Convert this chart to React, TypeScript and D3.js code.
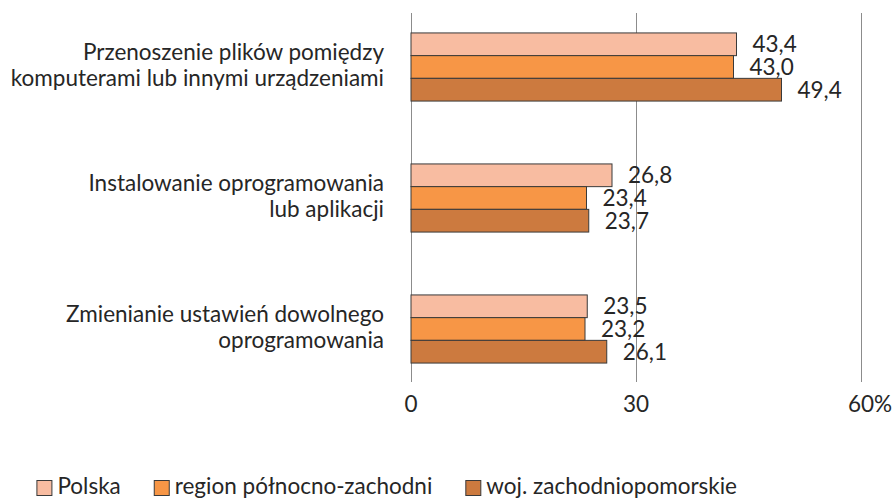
import React, { useEffect, useRef } from "react";
import * as d3 from "d3";

const categories = [
  ["Przenoszenie plików pomiędzy", "komputerami lub innymi urządzeniami"],
  ["Instalowanie oprogramowania", "lub aplikacji"],
  ["Zmienianie ustawień dowolnego", "oprogramowania"],
];
const seriesNames = ["Polska", "region północno-zachodni", "woj. zachodniopomorskie"];
const polska = [43.4, 26.8, 23.5];
const region = [43.0, 23.4, 23.2];
const woj = [49.4, 23.7, 26.1];
const ticks = [0, 30, 60];
const tickLabels = ["0", "30", "60"];
const colors = ["#F8BCA1", "#F79646", "#CC7A3F"];

const W = 893;
const H = 499;
const FONT = "Lato, 'Open Sans', sans-serif";
const FS = 22.5;
const TEXT = "#262626";

export default function App() {
  const ref = useRef<SVGSVGElement | null>(null);
  useEffect(() => {
    document.body.style.margin = "0";
    const svg = d3.select(ref.current);
    svg.selectAll("*").remove();
    const series = [polska, region, woj];
    const x = d3.scaleLinear().domain([0, 60]).range([411, 861]);
    const y = d3
      .scaleBand<number>()
      .domain(d3.range(categories.length))
      .range([1.5, 394.5])
      .paddingInner(0.48)
      .paddingOuter(0.24);
    const ys = d3.scaleBand<number>().domain(d3.range(series.length)).range([0, y.bandwidth()]);

    // gridlines
    svg
      .append("g")
      .selectAll("line")
      .data(ticks)
      .join("line")
      .attr("x1", (d) => Math.round(x(d)) + 0.5)
      .attr("x2", (d) => Math.round(x(d)) + 0.5)
      .attr("y1", 13)
      .attr("y2", 382)
      .attr("stroke", "#8c8c8c")
      .attr("stroke-width", 1);

    // bars
    series.forEach((vals, si) => {
      const g = svg.append("g");
      g.selectAll("rect")
        .data(vals)
        .join("rect")
        .attr("x", x(0))
        .attr("y", (_, i) => (y(i) as number) + (ys(si) as number))
        .attr("width", (d) => x(d) - x(0))
        .attr("height", ys.bandwidth())
        .attr("fill", colors[si])
        .attr("stroke", "#3a3a3a")
        .attr("stroke-width", 1);
      g.selectAll("text")
        .data(vals)
        .join("text")
        .attr("x", (d) => x(d) + 16)
        .attr("y", (_, i) => (y(i) as number) + (ys(si) as number) + ys.bandwidth() / 2 + 8)
        .attr("font-family", FONT)
        .attr("font-size", FS)
        .attr("fill", TEXT)
        .text((d) => d.toFixed(1).replace(".", ","));
    });

    // category labels
    categories.forEach((lines, i) => {
      const cy = (y(i) as number) + y.bandwidth() / 2;
      const t = svg
        .append("text")
        .attr("text-anchor", "end")
        .attr("font-family", FONT)
        .attr("font-size", FS)
        .attr("fill", TEXT);
      lines.forEach((ln, li) => {
        t.append("tspan")
          .attr("x", 384)
          .attr("y", cy - 7 + li * 25.5)
          .text(ln);
      });
    });

    // tick labels
    ticks.forEach((tv, i) => {
      const t = svg
        .append("text")
        .attr("x", x(tv))
        .attr("y", 412)
        .attr("text-anchor", "middle")
        .attr("font-family", FONT)
        .attr("font-size", FS)
        .attr("fill", TEXT)
        .text(tickLabels[i]);
      if (i === ticks.length - 1) {
        const w = (t.node() as SVGTextElement).getComputedTextLength();
        svg
          .append("text")
          .attr("x", x(tv) + w / 2)
          .attr("y", 412)
          .attr("font-family", FONT)
          .attr("font-size", FS)
          .attr("fill", TEXT)
          .text("%");
      }
    });

    // legend
    const lg = svg.append("g");
    const widths: number[] = [];
    const texts = seriesNames.map((n) => {
      const t = lg
        .append("text")
        .attr("y", 494)
        .attr("font-family", FONT)
        .attr("font-size", FS)
        .attr("fill", TEXT)
        .text(n);
      widths.push((t.node() as SVGTextElement).getComputedTextLength());
      return t;
    });
    const box = 15;
    const gapBox = 6;
    const gapItem = 33;
    const total = widths.reduce((a, w) => a + box + gapBox + w, 0) + gapItem * (seriesNames.length - 1);
    let cx = 737 - total;
    seriesNames.forEach((_, i) => {
      lg.append("rect")
        .attr("x", cx + 0.5)
        .attr("y", 480.5)
        .attr("width", box)
        .attr("height", box)
        .attr("fill", colors[i])
        .attr("stroke", "#3a3a3a")
        .attr("stroke-width", 1);
      texts[i].attr("x", cx + box + gapBox);
      cx += box + gapBox + widths[i] + gapItem;
    });
  }, []);
  return <svg ref={ref} width={W} height={H} style={{ display: "block", background: "#fff" }} />;
}
